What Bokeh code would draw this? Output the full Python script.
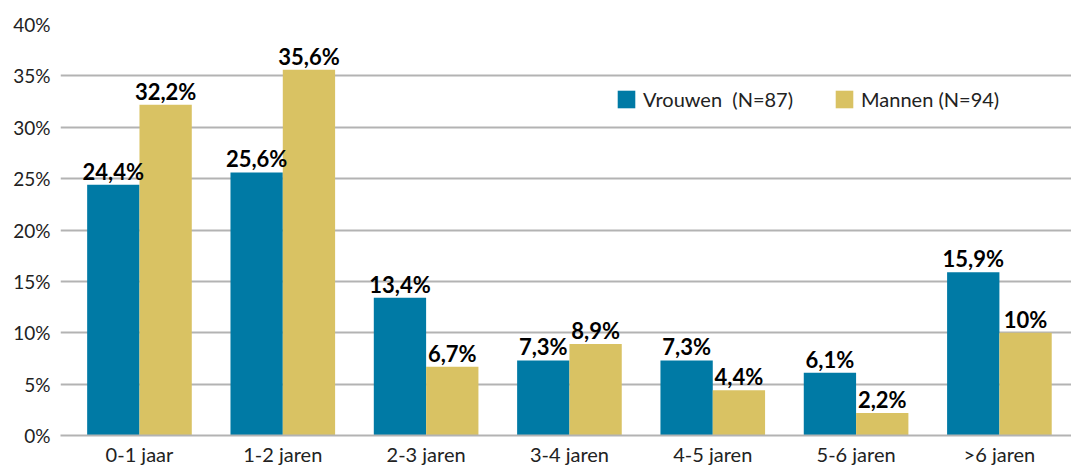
import numpy as np
from bokeh.plotting import figure
from bokeh.models import (ColumnDataSource, Range1d, FixedTicker, PrintfTickFormatter,
                          Legend, LegendItem)
from bokeh.core.properties import value
from bokeh.embed import file_html
from bokeh.resources import INLINE

categories = ["0-1 jaar", "1-2 jaren", "2-3 jaren", "3-4 jaren", "4-5 jaren", "5-6 jaren", ">6 jaren"]
vrouwen = [24.4, 25.6, 13.4, 7.3, 7.3, 6.1, 15.9]
mannen = [32.2, 35.6, 6.7, 8.9, 4.4, 2.2, 10.0]
series_names = ["Vrouwen  (N=87)", "Mannen (N=94)"]
y_ticks = [0, 5, 10, 15, 20, 25, 30, 35, 40]

TEAL = "#007AA5"
GOLD = "#D9C263"
FONT = "Lato"


def fmt(v):
    s = f"{v:.1f}".replace(".", ",")
    if s.endswith(",0"):
        s = s[:-2]
    return s + "%"


idx = np.arange(len(categories))
off = 0.1825
bw = 0.365

src_v = ColumnDataSource(dict(x=idx - off, y=vrouwen, lab=[fmt(v) for v in vrouwen]))
src_m = ColumnDataSource(dict(x=idx + off, y=mannen, lab=[fmt(v) for v in mannen]))

p = figure(width=1071, height=468, output_backend="svg", toolbar_location=None,
           x_range=Range1d(-0.551, 6.503), y_range=Range1d(0, 40),
           min_border_left=60, min_border_right=0, min_border_top=24, min_border_bottom=31)
p.outline_line_color = None
p.background_fill_color = "white"
p.border_fill_color = "white"

rv = p.vbar(x="x", top="y", width=bw, source=src_v, fill_color=TEAL, line_color=None)
rm = p.vbar(x="x", top="y", width=bw, source=src_m, fill_color=GOLD, line_color=None)

for src in (src_v, src_m):
    p.text(x="x", y="y", text="lab", source=src, text_align="center", text_baseline="bottom",
           y_offset=0, text_font=value(FONT), text_font_style="bold", text_font_size="22px",
           text_color="black")

# axes
p.xaxis.ticker = FixedTicker(ticks=list(idx))
p.xaxis.major_label_overrides = {int(i): c for i, c in zip(idx, categories)}
p.xaxis.major_tick_line_color = None
p.xaxis.minor_tick_line_color = None
p.xaxis.major_tick_out = 0
p.xaxis.major_label_standoff = 6
p.xaxis.axis_line_color = "#b3b3b3"
p.xaxis.axis_line_width = 2
p.xaxis.major_label_text_font = FONT
p.xaxis.major_label_text_font_size = "20px"
p.xaxis.major_label_text_color = "#222222"

p.yaxis.ticker = FixedTicker(ticks=y_ticks)
p.yaxis.formatter = PrintfTickFormatter(format="%d%%")
p.yaxis.axis_line_color = None
p.yaxis.major_tick_line_color = None
p.yaxis.minor_tick_line_color = None
p.yaxis.major_tick_out = 0
p.yaxis.major_label_standoff = 10
p.yaxis.major_label_text_font = FONT
p.yaxis.major_label_text_font_size = "19px"
p.yaxis.major_label_text_color = "#222222"

p.xgrid.grid_line_color = None
p.ygrid.grid_line_color = "#b3b3b3"
p.ygrid.grid_line_width = 2

legend = Legend(items=[LegendItem(label=series_names[0], renderers=[rv]),
                       LegendItem(label=series_names[1], renderers=[rm])],
                orientation="horizontal", location=(555, 324),
                glyph_width=22, glyph_height=22, label_standoff=6, spacing=40,
                padding=0, margin=0, border_line_color=None, background_fill_alpha=0,
                label_text_font=FONT, label_text_font_size="20px", label_text_color="#222222")
p.add_layout(legend, "center")

open("out.html", "w").write(file_html(p, INLINE))
